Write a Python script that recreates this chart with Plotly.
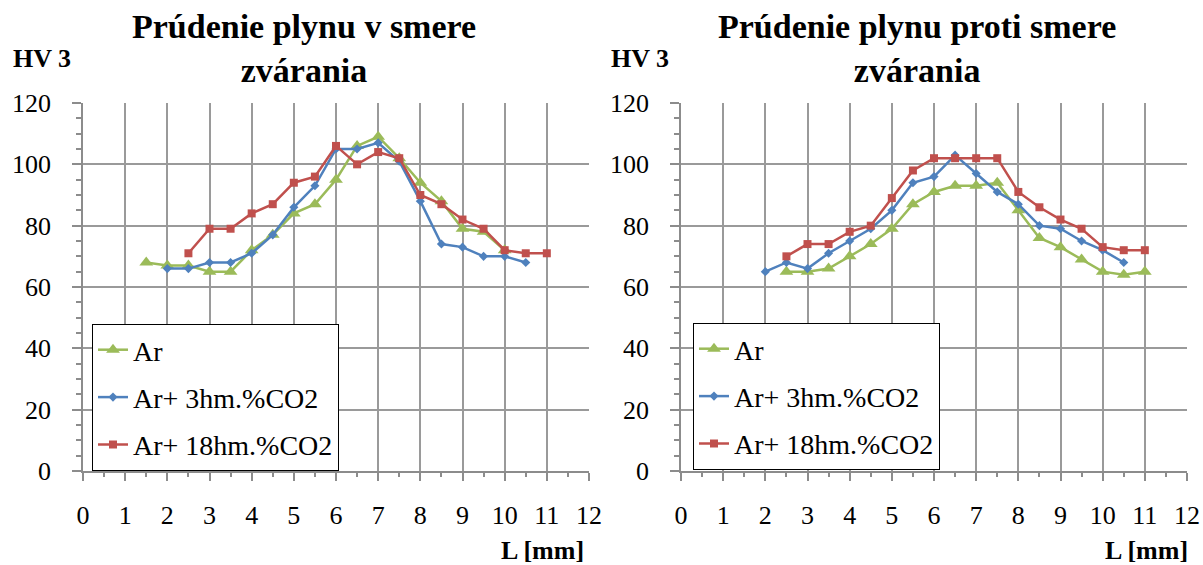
import plotly.graph_objects as go

# Hardness profiles HV 3 across the weld, distance L in mm
series_names = ["Ar", "Ar+ 3hm.%CO2", "Ar+ 18hm.%CO2"]

# Gas flow in the welding direction
left_ar_x = [1.5, 2, 2.5, 3, 3.5, 4, 4.5, 5, 5.5, 6, 6.5, 7, 7.5, 8, 8.5, 9, 9.5, 10]
left_ar_y = [68, 67, 67, 65, 65, 72, 77, 84, 87, 95, 106, 109, 102, 94, 88, 79, 78, 72]
left_co2_3_x = [2, 2.5, 3, 3.5, 4, 4.5, 5, 5.5, 6, 6.5, 7, 7.5, 8, 8.5, 9, 9.5, 10, 10.5]
left_co2_3_y = [66, 66, 68, 68, 71, 77, 86, 93, 105, 105, 107, 101, 88, 74, 73, 70, 70, 68]
left_co2_18_x = [2.5, 3, 3.5, 4, 4.5, 5, 5.5, 6, 6.5, 7, 7.5, 8, 8.5, 9, 9.5, 10, 10.5, 11]
left_co2_18_y = [71, 79, 79, 84, 87, 94, 96, 106, 100, 104, 102, 90, 87, 82, 79, 72, 71, 71]

# Gas flow against the welding direction
right_ar_x = [2.5, 3, 3.5, 4, 4.5, 5, 5.5, 6, 6.5, 7, 7.5, 8, 8.5, 9, 9.5, 10, 10.5, 11]
right_ar_y = [65, 65, 66, 70, 74, 79, 87, 91, 93, 93, 94, 85, 76, 73, 69, 65, 64, 65]
right_co2_3_x = [2, 2.5, 3, 3.5, 4, 4.5, 5, 5.5, 6, 6.5, 7, 7.5, 8, 8.5, 9, 9.5, 10, 10.5]
right_co2_3_y = [65, 68, 66, 71, 75, 79, 85, 94, 96, 103, 97, 91, 87, 80, 79, 75, 72, 68]
right_co2_18_x = [2.5, 3, 3.5, 4, 4.5, 5, 5.5, 6, 6.5, 7, 7.5, 8, 8.5, 9, 9.5, 10, 10.5, 11]
right_co2_18_y = [70, 74, 74, 78, 80, 89, 98, 102, 102, 102, 102, 91, 86, 82, 79, 73, 72, 72]

titles = ["Prúdenie plynu v smere<br>zvárania", "Prúdenie plynu proti smere<br>zvárania"]
y_label = "HV 3"
x_label = "L [mm]"

x_ticks = list(range(0, 13))
y_ticks = list(range(0, 121, 20))

colors = ["#9BBB59", "#4F81BD", "#C0504D"]
symbols = ["triangle-up", "diamond", "square"]
msizes = [12, 7, 8]

FONT = "Liberation Serif, Times New Roman, serif"
W, H = 1203, 565

fig = go.Figure()

panels = [
    ("x", "y", "legend", [(left_ar_x, left_ar_y), (left_co2_3_x, left_co2_3_y), (left_co2_18_x, left_co2_18_y)]),
    ("x2", "y2", "legend2", [(right_ar_x, right_ar_y), (right_co2_3_x, right_co2_3_y), (right_co2_18_x, right_co2_18_y)]),
]

for xa, ya, lg, data in panels:
    for i, (xs, ys) in enumerate(data):
        fig.add_trace(go.Scatter(
            x=xs, y=ys, name=series_names[i], mode="lines+markers",
            xaxis=xa, yaxis=ya, legend=lg, legendgroup=f"{lg}_{i}",
            line=dict(color=colors[i], width=2.5),
            marker=dict(symbol=symbols[i], size=msizes[i], color=colors[i]),
        ))

# plot areas in pixels
left_px = (83, 589)
right_px = (681, 1187)
top_px, bottom_px = 103, 471

def xdom(a, b):
    return [a / W, b / W]

ydom = [1 - bottom_px / H, 1 - top_px / H]

axis_common = dict(
    showline=True, linecolor="#8c8c8c", linewidth=1.5,
    showgrid=True, gridcolor="#9a9a9a", gridwidth=1.5,
    zeroline=False, automargin=False,
    tickfont=dict(family=FONT, size=26, color="black"),
    ticks="outside", tickcolor="#8c8c8c", tickwidth=1.5,
)

xaxis_common = dict(axis_common, range=[0, 12], tickvals=x_ticks, ticklen=8,
                    minor=dict(dtick=0.5, ticks="outside", ticklen=4, tickcolor="#8c8c8c", showgrid=False),
                    ticklabelstandoff=12)
yaxis_common = dict(axis_common, range=[0, 120], tickvals=y_ticks, ticklen=9,
                    minor=dict(dtick=5, ticks="outside", ticklen=5, tickcolor="#8c8c8c", showgrid=False),
                    ticklabelstandoff=16)

legend_common = dict(
    bgcolor="white", bordercolor="black", borderwidth=1,
    font=dict(family=FONT, size=28, color="black"),
    tracegroupgap=8, itemwidth=30,
    xanchor="left", yanchor="top",
)

fig.update_layout(
    template="none",
    font=dict(family=FONT, color="black"),
    width=W, height=H, autosize=False,
    margin=dict(l=0, r=0, t=0, b=0, pad=0, autoexpand=False),
    paper_bgcolor="white", plot_bgcolor="white",
    xaxis=dict(xaxis_common, domain=xdom(*left_px), anchor="y"),
    yaxis=dict(yaxis_common, domain=ydom, anchor="x"),
    xaxis2=dict(xaxis_common, domain=xdom(*right_px), anchor="y2"),
    yaxis2=dict(yaxis_common, domain=ydom, anchor="x2"),
    legend=dict(legend_common, x=92 / W, y=1 - 324 / H),
    legend2=dict(legend_common, x=693 / W, y=1 - 323 / H),
    showlegend=True,
)

annotations = []
for title, cx in zip(titles, [304, 917]):
    annotations.append(dict(
        text="<b>" + title.replace("<br>", "</b><br><b>") + "</b>",
        x=cx / W, y=1 - 48 / H, xref="paper", yref="paper",
        xanchor="center", yanchor="middle", showarrow=False,
        font=dict(family=FONT, size=34, color="black"),
    ))
for lx in [11, 609]:
    annotations.append(dict(
        text=f"<b>{y_label}</b>", x=lx / W, y=1 - 59 / H, xref="paper", yref="paper",
        xanchor="left", yanchor="middle", showarrow=False,
        font=dict(family=FONT, size=26, color="black"),
    ))
for rx in [586, 1190]:
    annotations.append(dict(
        text=f"<b>{x_label}</b>", x=rx / W, y=1 - 550 / H, xref="paper", yref="paper",
        xanchor="right", yanchor="middle", showarrow=False,
        font=dict(family=FONT, size=26, color="black"),
    ))
fig.update_layout(annotations=annotations)

fig.write_html("out.html")
